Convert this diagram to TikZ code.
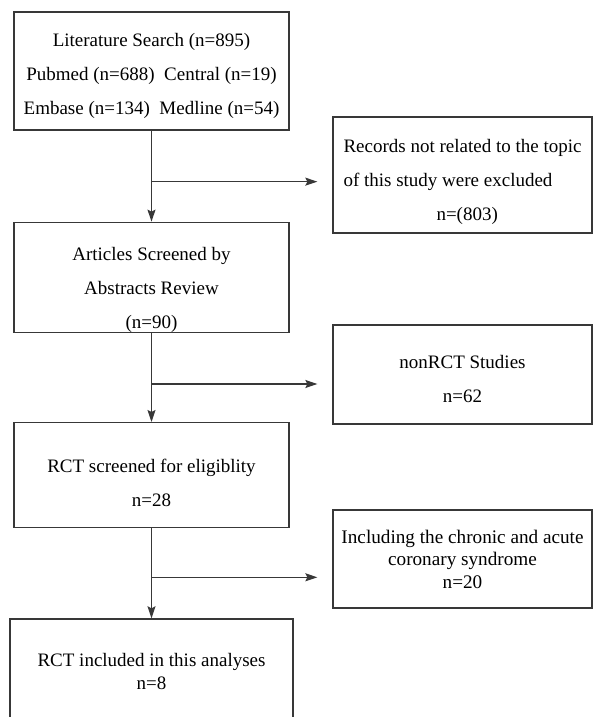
\documentclass[tikz,border=0pt]{standalone}
\usepackage{fontspec}
\setmainfont{Liberation Serif}
\usepackage{tikz}
\usetikzlibrary{positioning, arrows.meta}

\begin{document}
\begin{tikzpicture}[x=1pt, y=-1pt,
    box/.style={draw=black!78, line width=1.3pt, rectangle, inner sep=0pt, align=center, font=\fontsize{19}{34}\selectfont},
    arr/.style={draw=black!78, line width=1.3pt, -{Stealth[length=12pt, width=8pt, inset=2pt]}}]

    \useasboundingbox (0,0) rectangle (594,717);

    % colonna principale
    \node[box, minimum width=275pt, minimum height=118pt] (search) at (151.5,71)
        {\rule{0pt}{24pt}Literature Search (n=895)\\Pubmed (n=688)~ Central (n=19)\\Embase (n=134)~ Medline (n=54)};
    \node[box, minimum width=275pt, minimum height=104pt, below=91pt of search] (screen)
        {\rule{0pt}{38pt}Articles Screened by\\Abstracts Review\\(n=90)};
    \node[box, minimum width=275pt, minimum height=105pt, below=89pt of screen] (elig)
        {\rule{0pt}{28pt}RCT screened for eligiblity\\n=28};
    \node[box, minimum width=283pt, minimum height=113pt, below=90pt of elig, font=\fontsize{19}{23}\selectfont] (incl)
        {RCT included in this analyses\\n=8\rule[-9pt]{0pt}{0pt}};

    % esclusi
    \node[box, minimum width=259pt, minimum height=116pt, align=left] (excl) at (462.5,175)
        {\rule{0pt}{27pt}Records not related to the topic\\of this study were excluded\\\hspace*{93pt}n=(803)};
    \node[box, minimum width=259pt, minimum height=99pt] (nonrct) at (462.5,374.5)
        {\rule{0pt}{23pt}nonRCT Studies\\n=62};
    \node[box, minimum width=259pt, minimum height=98pt, font=\fontsize{19.2}{22.5}\selectfont] (acs) at (462.5,559)
        {Including the chronic and acute\\coronary syndrome\\n=20};

    \coordinate[below=51pt of search.south] (k1);
    \coordinate[below=51pt of screen.south] (k2);
    \coordinate[below=49pt of elig.south] (k3);

    \draw[arr] (search) -- (screen);
    \draw[arr] (screen) -- (elig);
    \draw[arr] (elig) -- (incl);

    % frecce laterali
    \draw[arr, shorten >=15pt] (k1) -- (k1 -| excl.west);
    \draw[arr, shorten >=15pt] (k2) -- (k2 -| nonrct.west);
    \draw[arr, shorten >=15pt] (k3) -- (k3 -| acs.west);

\end{tikzpicture}
\end{document}
